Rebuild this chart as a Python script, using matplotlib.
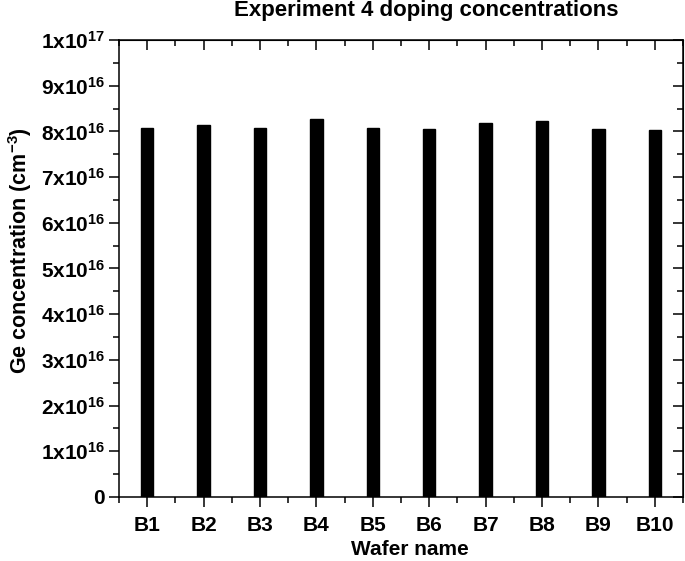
#!/usr/bin/env python3

"""Bar chart of Ge doping concentration per wafer (experiment 4)."""

import matplotlib

matplotlib.use("Agg")
import matplotlib.pyplot as plt
from matplotlib.ticker import FixedLocator, NullFormatter

plt.rcParams["font.family"] = ["Liberation Sans", "DejaVu Sans"]
plt.rcParams["font.weight"] = "bold"
plt.rcParams["mathtext.fontset"] = "custom"
plt.rcParams["mathtext.rm"] = "Liberation Sans:bold"
plt.rcParams["mathtext.bf"] = "Liberation Sans:bold"
plt.rcParams["mathtext.default"] = "bf"

# values in units of 1e16 cm^-3
wafers = ["B1", "B2", "B3", "B4", "B5", "B6", "B7", "B8", "B9", "B10"]
ge_conc_e16 = [8.07, 8.13, 8.07, 8.27, 8.07, 8.05, 8.18, 8.22, 8.05, 8.02]
y_ticks = list(range(0, 11))
y_tick_labels = ["0"] + [f"${i}x10^{{16}}$" for i in range(1, 10)] + ["$1x10^{17}$"]


def style_axes(ax):
    positions = list(range(1, len(wafers) + 1))
    minor_x = [p - 0.5 for p in positions] + [positions[-1] + 0.5]
    minor_y = [t + 0.5 for t in y_ticks[:-1]]
    ax.set_xlim(0.5, len(wafers) + 0.5)
    ax.set_ylim(0, 10)
    ax.set_xticks(positions)
    ax.set_xticklabels(wafers, fontsize=15, fontweight="bold")
    ax.xaxis.set_minor_locator(FixedLocator(minor_x))
    ax.set_yticks(y_ticks)
    ax.set_yticklabels(y_tick_labels, fontsize=15)
    ax.yaxis.set_minor_locator(FixedLocator(minor_y))
    ax.tick_params(which="major", direction="out", length=7, width=1.1)
    ax.tick_params(which="minor", direction="out", length=4, width=1.1)
    ax.tick_params(axis="x", which="major", pad=7)
    ax.tick_params(axis="y", which="major", pad=3)
    for spine in ax.spines.values():
        spine.set_linewidth(1.1)

    top = ax.secondary_xaxis("top")
    top.set_xticks(positions)
    top.xaxis.set_minor_locator(FixedLocator(minor_x))
    top.xaxis.set_major_formatter(NullFormatter())
    top.tick_params(which="major", direction="in", length=7, width=1.1)
    top.tick_params(which="minor", direction="in", length=4, width=1.1)

    right = ax.secondary_yaxis("right")
    right.set_yticks(y_ticks)
    right.yaxis.set_minor_locator(FixedLocator(minor_y))
    right.yaxis.set_major_formatter(NullFormatter())
    right.tick_params(which="major", direction="in", length=7, width=1.1)
    right.tick_params(which="minor", direction="in", length=4, width=1.1)


def main() -> None:
    fig = plt.figure(figsize=(6.85, 5.61), dpi=100)
    ax = fig.add_axes([0.1737, 0.1141, 0.8233, 0.8146])
    positions = list(range(1, len(wafers) + 1))
    ax.bar(positions, ge_conc_e16, width=0.22, color="black", edgecolor="black")
    style_axes(ax)

    ax.set_xlabel("Wafer name", fontsize=15, fontweight="bold")
    ax.xaxis.set_label_coords(0.515, -0.095)
    ax.set_ylabel("Ge concentration (cm$^{-3}$)", fontsize=15.5, fontweight="bold")
    ax.yaxis.set_label_coords(-0.151, 0.54)
    fig.text(0.622, 0.982, "Experiment 4 doping concentrations",
             ha="center", va="center", fontsize=16, fontweight="bold")

    fig.savefig("out.png", dpi=100)
    plt.close(fig)


if __name__ == "__main__":
    main()
